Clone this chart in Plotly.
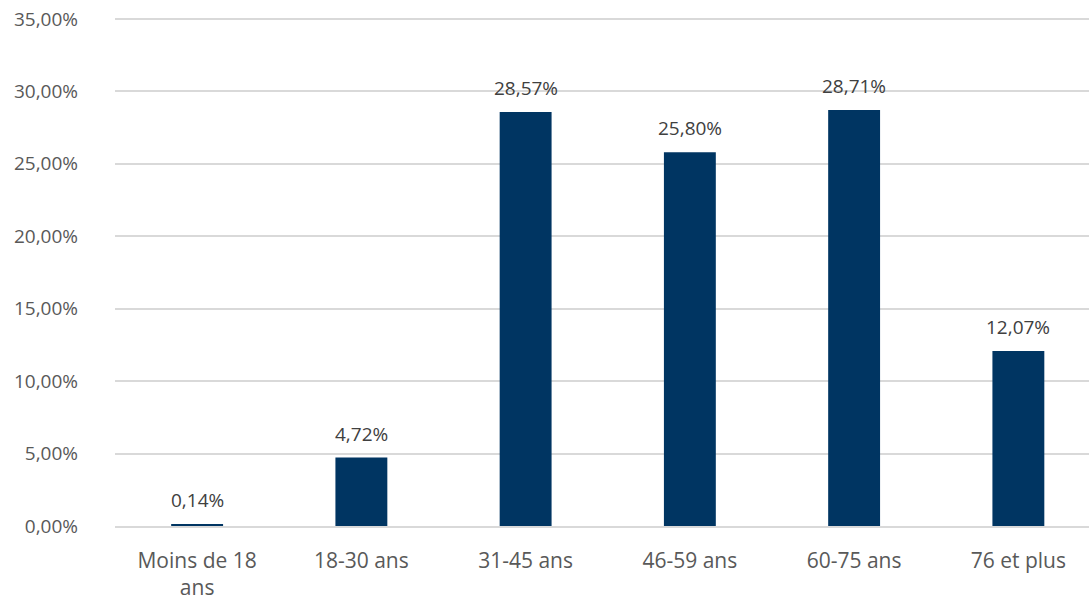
import plotly.graph_objects as go

categories = ["Moins de 18<br>ans", "18-30 ans", "31-45 ans", "46-59 ans", "60-75 ans", "76 et plus"]
values = [0.14, 4.72, 28.57, 25.80, 28.71, 12.07]
labels = ["0,14%", "4,72%", "28,57%", "25,80%", "28,71%", "12,07%"]
y_ticks = [0, 5, 10, 15, 20, 25, 30, 35]
y_ticktext = ["0,00%", "5,00%", "10,00%", "15,00%", "20,00%", "25,00%", "30,00%", "35,00%"]

FONT = "Open Sans"
xs = list(range(len(categories)))

fig = go.Figure(go.Bar(
    x=xs,
    y=values,
    marker=dict(color="#003562", line=dict(width=0)),
    hoverinfo="skip",
))

for xi, v, lab in zip(xs, values, labels):
    fig.add_annotation(
        x=xi, y=v, text=lab, showarrow=False,
        yanchor="middle", yshift=24,
        font=dict(family=FONT, size=19, color="#404040"),
    )

fig.update_layout(
    width=1089, height=606,
    margin=dict(l=115, r=0, t=16, b=80),
    plot_bgcolor="white", paper_bgcolor="white",
    bargap=0.684,
    showlegend=False,
    font=dict(family=FONT, size=19, color="#595959"),
)
fig.update_xaxes(
    tickmode="array", tickvals=xs, ticktext=categories,
    range=[-0.5, 5.43], showgrid=False, zeroline=False,
    showline=True, linecolor="#D9D9D9", linewidth=1.5,
    ticks="", ticklabelstandoff=15,
    tickfont=dict(family=FONT, size=21, color="#595959"),
)
fig.update_yaxes(
    range=[0, 35.2], tickmode="array", tickvals=y_ticks, ticktext=y_ticktext,
    showgrid=True, gridcolor="#D9D9D9", gridwidth=1.5,
    zeroline=False, showline=False, ticks="", ticklabelstandoff=36,
    tickfont=dict(family=FONT, size=19, color="#595959"),
)

fig.write_html(
    "out.html",
    config={"displayModeBar": False},
    post_script="document.body.style.margin='0';document.body.style.padding='0';",
)
